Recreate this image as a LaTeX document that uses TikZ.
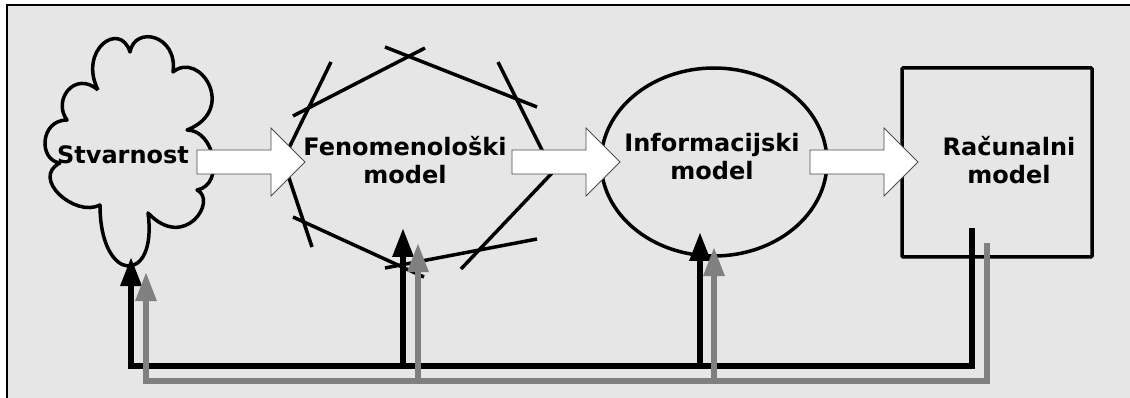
\documentclass[tikz,border=0pt]{standalone}
\usepackage{fontspec}
\setmainfont{DejaVu Sans}
\usetikzlibrary{arrows.meta, shapes.geometric}
\definecolor{panel}{HTML}{E6E6E6}
\tikzset{
  lbl/.style={font=\bfseries\fontsize{24}{28}\selectfont, align=center, inner sep=0pt},
  outline/.style={line width=3.5pt},
  fbblack/.style={line width=6pt, -{Triangle[length=29pt,width=20pt]}},
  fbgray/.style={line width=6pt, gray, -{Triangle[length=29pt,width=20pt]}}
}

\begin{document}
\begin{tikzpicture}[x=1pt, y=-1pt]
\tikzset{
  blockarrow/.pic={\draw[fill=white, draw=black!70, line width=0.8pt]
    (0,-12) -- (74,-12) -- (74,-34) -- (108,0) -- (74,34) -- (74,12) -- (0,12) -- cycle;}
}

\useasboundingbox (0,0) rectangle (1130,398);
\clip (0,0) rectangle (1130,398);
\draw[line width=2pt, fill=panel] (7,5) rectangle (1150,420);

% cloud
\draw[outline, line join=round] (98,90) .. controls (78,50) and (120,20) .. (130,52)
  .. controls (135,25) and (178,35) .. (173,72)
  .. controls (200,50) and (238,110) .. (187,130)
  .. controls (215,130) and (225,185) .. (197,190)
  .. controls (218,200) and (185,252) .. (148,213)
  .. controls (158,285) and (100,285) .. (100,205)
  .. controls (75,218) and (30,178) .. (60,163)
  .. controls (38,160) and (40,120) .. (67,120)
  .. controls (52,100) and (75,70) .. (98,90);

% crossed lines
\draw[outline] (293,116) -- (425,48);
\draw[outline] (385,47) -- (537,107);
\draw[outline] (498,62) -- (543,152);
\draw[outline] (552,173) -- (461,269);
\draw[outline] (385,268) -- (537,239);
\draw[outline] (293,217) -- (424,277);
\draw[outline] (287,172) -- (312,247);
\draw[outline] (331,62) -- (288,150);

\node[ellipse, draw, outline, minimum width=226pt, minimum height=188pt] (info) at (714,162) {};
\node[draw, outline, rounded corners=1pt, minimum width=190pt, minimum height=189pt] (rac) at (997,162.5) {};

\pic at (197,162) {blockarrow};
\pic at (512,162) {blockarrow};
\pic at (810,162) {blockarrow};

\node[lbl] (real) at (123,155) {Stvarnost};
\node[lbl] (fen) at (405,160) {Fenomenološki\\model};
\node[lbl] (infoT) at (712,157) {Informacijski\\model};
\node[lbl] (racT) at (1009,160) {Računalni\\model};

\coordinate (cin) at (131,257);
\coordinate (cin2) at (146,272);
\coordinate (fin) at (403,228);
\coordinate (fin2) at (418,243);
\coordinate (iin) at (700,232);
\coordinate (iin2) at (714,247);
\coordinate (rout) at (972,228);
\coordinate (rout2) at (987,243);
\coordinate (busk) at (0,366);
\coordinate (busg) at (0,381);

\draw[fbblack] (rout) -- (rout |- busk) -| (cin);
\draw[fbblack] (fin |- busk) -- (fin);
\draw[fbblack] (iin |- busk) -- (iin);
\draw[fbgray] (rout2) -- (rout2 |- busg) -| (cin2);
\draw[fbgray] (fin2 |- busg) -- (fin2);
\draw[fbgray] (iin2 |- busg) -- (iin2);
\end{tikzpicture}
\end{document}
